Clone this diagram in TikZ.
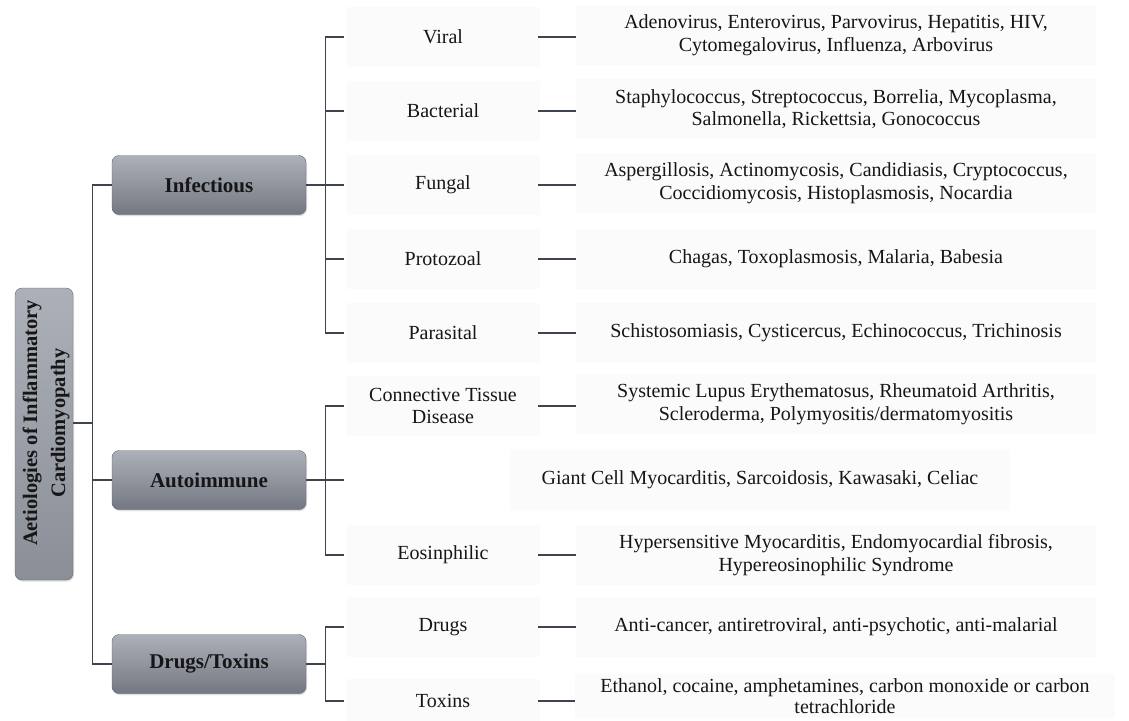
\documentclass[tikz,border=0pt]{standalone}
\usepackage{fontspec}
\setmainfont{Liberation Serif}
\usetikzlibrary{shadows}
\definecolor{boxtop}{RGB}{172,176,184}
\definecolor{boxbot}{RGB}{116,120,130}
\definecolor{linec}{RGB}{62,68,78}
\definecolor{faint}{RGB}{251,251,252}
\definecolor{txt}{RGB}{22,22,24}
\begin{document}
\begin{tikzpicture}[x=1pt,y=-1pt,
  catbox/.style={rectangle, rounded corners=7pt, minimum width=194pt, minimum height=59pt,
    top color=boxtop, bottom color=boxbot, draw=boxbot!85!black, line width=0.4pt,
    drop shadow={shadow xshift=1pt,shadow yshift=-1.5pt,fill=black!25},
    font=\fontsize{21}{24}\selectfont\bfseries, text=txt},
  lab/.style={rectangle, fill=faint, minimum width=194pt, minimum height=60pt, inner sep=0pt,
    align=center, font=\fontsize{20}{22.5}\selectfont, text=txt},
  desc/.style={lab, minimum width=520pt},
  conn/.style={draw=linec, line width=1.2pt}]
\useasboundingbox (0,0) rectangle (1129,720);
\fill[white] (0,0) rectangle (1129,720);

% root
\node[rectangle, rounded corners=7pt, minimum width=58pt, minimum height=292pt,
  top color=boxtop, bottom color=boxbot!60!boxtop, draw=boxbot!85!black, line width=0.4pt,
  drop shadow={shadow xshift=1pt,shadow yshift=-1.5pt,fill=black!25}] (rootbox) at (44,434) {};
\node[rotate=90, align=center, font=\fontsize{20.5}{28}\selectfont\bfseries, text=txt] (roottext) at (46,423)
  {Aetiologies of Inflammatory\\Cardiomyopathy};

% categories
\node[catbox] (inf) at (209,185) {Infectious};
\node[catbox] (aut) at (209,480) {Autoimmune};
\node[catbox] (drg) at (209,664) {Drugs/Toxins};

% labels
\node[lab] (vir) at (443,37) {Viral};
\node[lab] (bac) at (443,111) {Bacterial};
\node[lab] (fun) at (443,185) {Fungal};
\node[lab] (pro) at (443,259) {Protozoal};
\node[lab] (par) at (443,333) {Parasital};
\node[lab] (ctd) at (443,406) {Connective Tissue\\Disease};
\node[lab] (eos) at (443,555) {Eosinphilic};
\node[lab] (dru) at (443,627) {Drugs};
\node[lab, minimum height=44pt] (tox) at (443,701) {Toxins};

% descriptions
\node[desc] (virD) at (836,35) {Adenovirus, Enterovirus, Parvovirus, Hepatitis, HIV,\\Cytomegalovirus, Influenza, Arbovirus};
\node[desc] (bacD) at (836,109) {Staphylococcus, Streptococcus, Borrelia, Mycoplasma,\\Salmonella, Rickettsia, Gonococcus};
\node[desc] (funD) at (836,183) {Aspergillosis, Actinomycosis, Candidiasis, Cryptococcus,\\Coccidiomycosis, Histoplasmosis, Nocardia};
\node[desc] (proD) at (836,259) {Chagas, Toxoplasmosis, Malaria, Babesia};
\node[desc] (parD) at (836,333) {Schistosomiasis, Cysticercus, Echinococcus, Trichinosis};
\node[desc] (ctdD) at (836,404) {Systemic Lupus Erythematosus, Rheumatoid Arthritis,\\Scleroderma, Polymyositis/dermatomyositis};
\node[lab, minimum width=500pt] (gcD) at (760,480) {Giant Cell Myocarditis, Sarcoidosis, Kawasaki, Celiac};
\node[desc] (eosD) at (836,555) {Hypersensitive Myocarditis, Endomyocardial fibrosis,\\Hypereosinophilic Syndrome};
\node[desc] (druD) at (836,627) {Anti-cancer, antiretroviral, anti-psychotic, anti-malarial};
\node[desc, minimum width=540pt, minimum height=44pt, font=\fontsize{20}{21}\selectfont] (toxD) at (845,696) {Ethanol, cocaine, amphetamines, carbon monoxide or carbon\\tetrachloride};

% trunk
\draw[conn] (rootbox.east |- roottext.center) -- ++(20,0);
\draw[conn] (inf.west) -- ++(-19,0) |- (drg.west);
\draw[conn] (aut.west) -- ++(-19,0);

% brackets
\draw[conn] ([xshift=-2pt]vir.west) -- ++(-18,0) |- ([xshift=-2pt]par.west);
\draw[conn] (inf.east) -- ([xshift=-2pt]fun.west);
\draw[conn] ([xshift=-2pt]bac.west) -- ++(-18,0);
\draw[conn] ([xshift=-2pt]pro.west) -- ++(-18,0);
\draw[conn] ([xshift=-2pt]ctd.west) -- ++(-18,0) |- ([xshift=-2pt]eos.west);
\draw[conn] (aut.east) -- ([xshift=-2pt]aut.east -| ctd.west);
\draw[conn] ([xshift=-2pt]dru.west) -- ++(-18,0) |- ([xshift=-2pt]tox.west);
\draw[conn] (drg.east) -- ++(20,0);

% dashes
\foreach \a in {vir,bac,fun,pro,par,ctd,eos,dru,tox}
  \draw[conn] ([xshift=-2pt]\a.east) -- (\a D.west |- \a.east);
\end{tikzpicture}
\end{document}
